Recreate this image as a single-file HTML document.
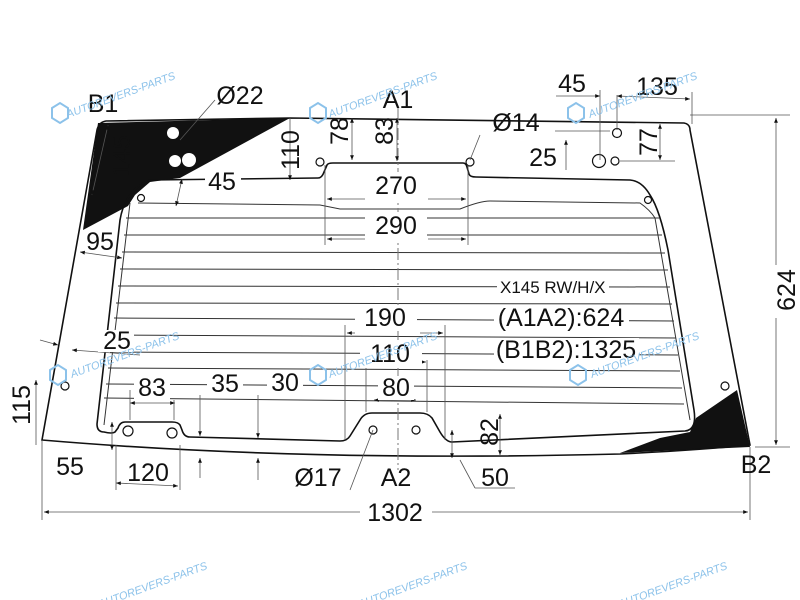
<!DOCTYPE html>
<html><head><meta charset="utf-8"><style>
html,body{margin:0;padding:0;background:#fff;width:800px;height:600px;overflow:hidden}
svg{display:block}
.t text{font-family:"Liberation Sans",Arial,sans-serif;fill:#111;font-size:25px}
.w text{font-family:"Liberation Sans",Arial,sans-serif;font-size:11px;fill:#8cc2ea;font-style:italic}
</style></head><body>
<svg width="800" height="600" viewBox="0 0 800 600" xmlns="http://www.w3.org/2000/svg">
<defs>
<marker id="a" viewBox="0 0 10 10" refX="10" refY="5" markerWidth="9" markerHeight="6" orient="auto-start-reverse"><path d="M0,1 L10,5 L0,9 z" fill="#111"/></marker>
</defs>
<polygon points="98,123 290,118 180,178 150,182 135,195 128,206 83,230" fill="#111"/>
<polygon points="737,390 750,447 620,453 660,438 690,432 696,418" fill="#111"/>
<path d="M106,121 L290,118 L684,123 Q690,124 690,130 L750,445 Q700,450 620,454 Q300,462 42,440 L97,130 Q99,122 106,121 Z" fill="none" stroke="#111" stroke-width="1.6"/>
<g fill="#fff"><circle cx="173" cy="133" r="6"/><circle cx="175" cy="161" r="6"/><circle cx="189" cy="160" r="7"/></g>
<path d="M150,180 L318,178 Q322,178 324,172 L327,165 Q328,163 333,163 L463,163 Q466,163 467,167 L469,174 Q470,177 476,177 L630,180 Q642,181 650,195 Q660,210 668,250 L694,410 Q697,430 685,431 L452,442 Q446,442 440,432 L432,418 Q428,413 420,413 L372,413 Q364,413 360,420 L350,436 Q347,441 340,441 L190,437 Q184,437 182,430 L180,425 Q178,422 172,422 L125,422 Q120,422 118,428 L115,432 Q112,434 104,432 Q97,432 97,424 L120,220 Q125,190 150,180 Z" fill="none" stroke="#111" stroke-width="1.6"/>
<g stroke="#333" stroke-width="1" fill="none">
<path d="M138,203 L320,205 Q330,207 340,209 L460,209 Q480,201 490,201 L640,203 Q650,210 655,218 L690,420"/>
<path d="M130,203 L104,425"/>
<line x1="126" y1="218" x2="660" y2="218"/>
<line x1="124" y1="235" x2="662" y2="235"/>
<line x1="122" y1="252" x2="665" y2="253"/>
<line x1="120" y1="269" x2="668" y2="270"/>
<line x1="118" y1="286" x2="670" y2="287"/>
<line x1="116" y1="303" x2="672" y2="304"/>
<line x1="114" y1="318" x2="674" y2="321"/>
<line x1="112" y1="335" x2="676" y2="338"/>
<line x1="110" y1="352" x2="678" y2="355"/>
<line x1="108" y1="368" x2="680" y2="371"/>
<line x1="106" y1="384" x2="682" y2="388"/>
<line x1="104" y1="398" x2="684" y2="404"/>
</g>
<line x1="398" y1="108" x2="398" y2="470" stroke="#777" stroke-width="1" stroke-dasharray="12,3,2,3"/>
<g fill="#fff" stroke="#111" stroke-width="1.2">
<circle cx="320" cy="162" r="4"/><circle cx="470" cy="162" r="4"/>
<circle cx="617" cy="133" r="4.5"/><circle cx="615" cy="161" r="4"/><circle cx="599" cy="161" r="6.5"/>
<circle cx="65" cy="386" r="4"/><circle cx="725" cy="386" r="4"/>
<circle cx="128" cy="431" r="5"/><circle cx="172" cy="433" r="5"/>
<circle cx="373" cy="430" r="4"/><circle cx="416" cy="430" r="4"/>
<circle cx="141" cy="198" r="3.5"/><circle cx="648" cy="200" r="3.5"/>
</g>
<g stroke="#555" stroke-width="0.8" fill="none">
<line x1="42" y1="440" x2="42" y2="520"/><line x1="750" y1="447" x2="750" y2="520"/>
<line x1="44" y1="512" x2="360" y2="512" marker-start="url(#a)"/>
<line x1="432" y1="512" x2="748" y2="512" marker-end="url(#a)"/>
<line x1="690" y1="115" x2="790" y2="115"/><line x1="755" y1="447" x2="790" y2="447"/>
<line x1="776" y1="118" x2="776" y2="265" marker-start="url(#a)"/>
<line x1="776" y1="318" x2="776" y2="445" marker-end="url(#a)"/>
<line x1="290" y1="118" x2="290" y2="180" marker-end="url(#a)"/>
<line x1="352" y1="118" x2="352" y2="160" marker-start="url(#a)" marker-end="url(#a)"/>
<line x1="397" y1="118" x2="397" y2="161" marker-start="url(#a)" marker-end="url(#a)"/>
<line x1="325" y1="165" x2="325" y2="245"/><line x1="468" y1="165" x2="468" y2="245"/>
<line x1="327" y1="199" x2="365" y2="199" marker-start="url(#a)"/><line x1="428" y1="199" x2="466" y2="199" marker-end="url(#a)"/>
<line x1="327" y1="239" x2="365" y2="239" marker-start="url(#a)"/><line x1="428" y1="239" x2="466" y2="239" marker-end="url(#a)"/>
<line x1="556" y1="96" x2="600" y2="96" marker-end="url(#a)"/><line x1="617" y1="96" x2="690" y2="99" marker-start="url(#a)" marker-end="url(#a)"/>
<line x1="600" y1="90" x2="600" y2="160"/><line x1="617" y1="95" x2="617" y2="130"/><line x1="692" y1="92" x2="692" y2="124"/>
<line x1="660" y1="124" x2="660" y2="160" marker-start="url(#a)" marker-end="url(#a)"/>
<line x1="620" y1="161" x2="675" y2="161"/><line x1="555" y1="131" x2="610" y2="131"/>
<line x1="566" y1="140" x2="566" y2="170" marker-start="url(#a)"/>
<line x1="108" y1="125" x2="92" y2="195" marker-start="url(#a)" marker-end="url(#a)"/>
<line x1="182" y1="179" x2="176" y2="206" marker-start="url(#a)" marker-end="url(#a)"/>
<line x1="80" y1="252" x2="122" y2="258" marker-start="url(#a)" marker-end="url(#a)"/>
<line x1="40" y1="340" x2="58" y2="345" marker-end="url(#a)"/>
<line x1="72" y1="350" x2="140" y2="355" marker-start="url(#a)"/>
<line x1="36" y1="380" x2="36" y2="445" marker-start="url(#a)"/>
<line x1="112" y1="422" x2="112" y2="450" marker-start="url(#a)" marker-end="url(#a)"/>
<line x1="130" y1="403" x2="175" y2="403" marker-start="url(#a)" marker-end="url(#a)"/>
<line x1="130" y1="390" x2="130" y2="420"/><line x1="174" y1="400" x2="174" y2="420"/>
<line x1="116" y1="483" x2="178" y2="486" marker-start="url(#a)" marker-end="url(#a)"/>
<line x1="116" y1="445" x2="116" y2="490"/><line x1="180" y1="445" x2="180" y2="490"/>
<line x1="200" y1="395" x2="200" y2="436" marker-end="url(#a)"/><line x1="200" y1="458" x2="200" y2="478" marker-start="url(#a)"/>
<line x1="258" y1="395" x2="258" y2="438" marker-end="url(#a)"/><line x1="258" y1="458" x2="258" y2="480" marker-start="url(#a)"/>
<line x1="345" y1="325" x2="345" y2="440"/><line x1="445" y1="325" x2="445" y2="440"/>
<line x1="347" y1="333" x2="355" y2="333" marker-start="url(#a)"/><line x1="420" y1="333" x2="443" y2="333" marker-end="url(#a)"/>
<line x1="366" y1="362" x2="426" y2="362" marker-start="url(#a)" marker-end="url(#a)"/>
<line x1="366" y1="360" x2="366" y2="412"/><line x1="427" y1="360" x2="427" y2="412"/>
<line x1="374" y1="400" x2="416" y2="400" marker-start="url(#a)" marker-end="url(#a)"/>
<line x1="452" y1="430" x2="452" y2="458" marker-start="url(#a)" marker-end="url(#a)"/>
<line x1="500" y1="414" x2="500" y2="455" marker-start="url(#a)" marker-end="url(#a)"/>
<line x1="460" y1="460" x2="475" y2="488"/><line x1="475" y1="488" x2="515" y2="488"/>
<line x1="373" y1="430" x2="350" y2="490"/>
<line x1="180" y1="140" x2="215" y2="100"/>
<line x1="470" y1="160" x2="480" y2="135"/>
</g>
<!-- white backing under horizontal labels -->
<g fill="#fff">
<rect x="365" y="172" width="62" height="28"/><rect x="365" y="212" width="62" height="28"/>
<rect x="205" y="170" width="36" height="24"/><rect x="355" y="305" width="62" height="26"/>
<rect x="360" y="342" width="62" height="26"/><rect x="378" y="376" width="36" height="24"/>
<rect x="494" y="305" width="135" height="24"/><rect x="494" y="338" width="145" height="24"/>
<rect x="134" y="376" width="36" height="24"/><rect x="207" y="372" width="36" height="24"/>
<rect x="267" y="371" width="36" height="24"/><rect x="98" y="330" width="36" height="22"/>
<rect x="497" y="277" width="112" height="20"/><rect x="360" y="500" width="70" height="24"/>
</g>
<g class="t" text-anchor="middle">
<text x="103" y="112">B1</text>
<text x="240" y="104">Ø22</text>
<text x="398" y="108">A1</text>
<text x="516" y="131">Ø14</text>
<text x="572" y="92">45</text>
<text x="657" y="95">135</text>
<text x="543" y="166">25</text>
<text x="222" y="190">45</text>
<text x="396" y="194">270</text>
<text x="396" y="234">290</text>
<text x="100" y="250">95</text>
<text x="385" y="326">190</text>
<text x="561" y="326">(A1A2):624</text>
<text x="390" y="362">110</text>
<text x="566" y="358">(B1B2):1325</text>
<text x="117" y="349">25</text>
<text x="152" y="396">83</text>
<text x="225" y="392">35</text>
<text x="285" y="391">30</text>
<text x="396" y="396">80</text>
<text x="70" y="475">55</text>
<text x="148" y="481">120</text>
<text x="318" y="486">Ø17</text>
<text x="396" y="486">A2</text>
<text x="495" y="486">50</text>
<text x="756" y="473">B2</text>
<text x="395" y="521">1302</text>
<text transform="translate(130,156) rotate(-90)">145</text>
<text transform="translate(299,150) rotate(-90)">110</text>
<text transform="translate(348,131) rotate(-90)">78</text>
<text transform="translate(393,131) rotate(-90)">83</text>
<text transform="translate(657,142) rotate(-90)">77</text>
<text transform="translate(30,405) rotate(-90)">115</text>
<text transform="translate(498,432) rotate(-90)">82</text>
<text transform="translate(795,290) rotate(-90)">624</text>
</g>
<text x="500" y="293" style="font-family:'Liberation Sans',Arial,sans-serif;font-size:17px;fill:#111">X145 RW/H/X</text>
<g class="w">
<text transform="translate(68,118) rotate(-20)">AUTOREVERS-PARTS</text>
<text transform="translate(330,118) rotate(-20)">AUTOREVERS-PARTS</text>
<text transform="translate(590,118) rotate(-20)">AUTOREVERS-PARTS</text>
<text transform="translate(72,378) rotate(-20)">AUTOREVERS-PARTS</text>
<text transform="translate(330,378) rotate(-20)">AUTOREVERS-PARTS</text>
<text transform="translate(592,378) rotate(-20)">AUTOREVERS-PARTS</text>
<text transform="translate(100,608) rotate(-20)">AUTOREVERS-PARTS</text>
<text transform="translate(360,608) rotate(-20)">AUTOREVERS-PARTS</text>
<text transform="translate(620,608) rotate(-20)">AUTOREVERS-PARTS</text>
</g>
<g fill="none" stroke="#8cc2ea" stroke-width="2">
<polygon points="52,108 60,103 68,108 68,118 60,123 52,118"/>
<polygon points="310,108 318,103 326,108 326,118 318,123 310,118"/>
<polygon points="568,108 576,103 584,108 584,118 576,123 568,118"/>
<polygon points="50,370 58,365 66,370 66,380 58,385 50,380"/>
<polygon points="310,370 318,365 326,370 326,380 318,385 310,380"/>
<polygon points="570,370 578,365 586,370 586,380 578,385 570,380"/>
</g>
</svg>
</body></html>
